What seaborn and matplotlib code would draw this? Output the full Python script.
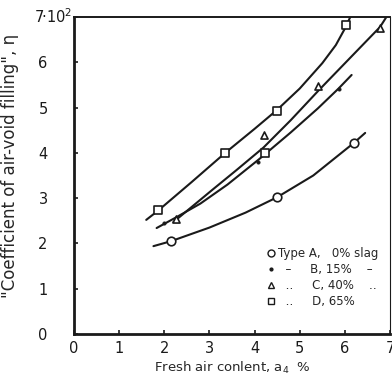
import numpy as np
import pandas as pd
import matplotlib
matplotlib.use("Agg")
import matplotlib.pyplot as plt
import matplotlib.transforms as mtransforms
from matplotlib.lines import Line2D
import seaborn as sns

# ---- data ----
# fitted curves
curve_A_x = [1.76, 2.15, 3.0, 3.8, 4.5, 5.3, 5.8, 6.2, 6.45]
curve_A_y = [1.94, 2.05, 2.35, 2.68, 3.02, 3.50, 3.90, 4.22, 4.44]
curve_B_x = [1.83, 2.27, 2.8, 3.4, 4.1, 4.8, 5.4, 5.86, 6.15]
curve_B_y = [2.34, 2.58, 2.88, 3.30, 3.86, 4.45, 4.98, 5.42, 5.72]
curve_C_x = [2.2, 2.6, 3.06, 3.6, 4.2, 4.8, 5.42, 6.1, 6.78, 6.92]
curve_C_y = [2.47, 2.80, 3.18, 3.62, 4.12, 4.72, 5.38, 6.08, 6.78, 7.0]
curve_D_x = [1.6, 1.87, 2.6, 3.35, 4.0, 4.5, 5.0, 5.5, 5.8, 6.02, 6.12]
curve_D_y = [2.52, 2.73, 3.35, 4.0, 4.53, 4.95, 5.42, 5.98, 6.38, 6.78, 7.0]

# measured points
pts_A_x = [2.15, 4.5, 6.2]
pts_A_y = [2.05, 3.02, 4.22]
pts_B_x = [2.0, 4.08, 5.86]
pts_B_y = [2.45, 3.80, 5.42]
pts_C_x = [2.27, 4.2, 5.4, 6.78]
pts_C_y = [2.54, 4.39, 5.47, 6.75]
pts_D_x = [1.87, 3.35, 4.5, 6.02, 4.22]
pts_D_y = [2.73, 4.0, 4.93, 6.82, 4.0]

legend_labels = ["Type A,   0% slag", "  \u2013     B, 15%    \u2013",
                 "  \u2025     C, 40%    \u2025", "  \u2025     D, 65%"]
x_ticks = [0, 1, 2, 3, 4, 5, 6, 7]
y_ticks = [0, 1, 2, 3, 4, 5, 6, 7]
y_tick_labels = ["0", "1", "2", "3", "4", "5", "6", ""]
y_top_label = "7\u00b710$^2$"

sns.set_style("ticks")
plt.rcParams['font.family'] = ['DejaVu Sans']

fig = plt.figure(figsize=(3.92, 3.80), dpi=100)
ax = fig.add_axes([74/392, 46/380, (390-74)/392, (334-17)/380])

curves = pd.concat([
    pd.DataFrame({"x": curve_A_x, "y": curve_A_y, "s": "A"}),
    pd.DataFrame({"x": curve_B_x, "y": curve_B_y, "s": "B"}),
    pd.DataFrame({"x": curve_C_x, "y": curve_C_y, "s": "C"}),
    pd.DataFrame({"x": curve_D_x, "y": curve_D_y, "s": "D"}),
])
for name, g in curves.groupby("s"):
    sns.lineplot(data=g, x="x", y="y", sort=False, color="#1a1a1a",
                 linewidth=1.5, ax=ax, legend=False, estimator=None)

mk = dict(facecolor="white", edgecolor="#1a1a1a", linewidth=1.2, zorder=5, legend=False)
sns.scatterplot(x=pts_A_x, y=pts_A_y, marker="o", s=38, ax=ax, **mk)
sns.scatterplot(x=pts_B_x, y=pts_B_y, marker="o", s=7, ax=ax,
                facecolor="#1a1a1a", edgecolor="#1a1a1a", zorder=5, legend=False)
sns.scatterplot(x=pts_C_x, y=pts_C_y, marker="^", s=26, ax=ax, **mk)
sns.scatterplot(x=pts_D_x, y=pts_D_y, marker="s", s=34, ax=ax, **mk)

ax.set_xlim(0, 7)
ax.set_ylim(0, 7)
ax.set_xticks(x_ticks)
ax.set_xticklabels([str(t) for t in x_ticks], fontsize=10.5)
ax.set_yticks(y_ticks)
ax.set_yticklabels(y_tick_labels, fontsize=10.5)
ax.tick_params(direction="in", length=3, width=1.2, colors="#1a1a1a")
ax.tick_params(axis="x", pad=5)
ax.tick_params(axis="y", pad=19)
trans = mtransforms.blended_transform_factory(ax.transAxes, ax.transData)
ax.text(-0.006, 7.0, y_top_label, transform=trans, ha="right", va="center",
        fontsize=10.5, color="#1a1a1a")

for side in ["left", "bottom"]:
    ax.spines[side].set_linewidth(2.0)
for side in ["top", "right"]:
    ax.spines[side].set_visible(True)
    ax.spines[side].set_linewidth(1.4)
ax.spines["right"].set_linewidth(0.8)
for s in ax.spines.values():
    s.set_color("#1a1a1a")

ax.set_xlabel("Fresh air conlent, a$_4$  %", fontsize=9.5, labelpad=3)
ax.set_ylabel("\"Coefficient of air-void filling\", \u03b7", fontsize=12, labelpad=3)
ax.yaxis.set_label_coords(-0.175, 0.53)

handles = [
    Line2D([], [], marker="o", linestyle="none", markerfacecolor="white",
           markeredgecolor="#1a1a1a", markersize=5),
    Line2D([], [], marker="o", linestyle="none", markerfacecolor="#1a1a1a",
           markeredgecolor="#1a1a1a", markersize=2),
    Line2D([], [], marker="^", linestyle="none", markerfacecolor="white",
           markeredgecolor="#1a1a1a", markersize=4.5),
    Line2D([], [], marker="s", linestyle="none", markerfacecolor="white",
           markeredgecolor="#1a1a1a", markersize=5),
]
ax.legend(handles, legend_labels, loc="lower right", bbox_to_anchor=(0.985, 0.06),
          frameon=False, fontsize=8.5, handlelength=0.6, handletextpad=0.3,
          labelspacing=0.25, borderaxespad=0.2)

fig.savefig("out.png", dpi=100)
